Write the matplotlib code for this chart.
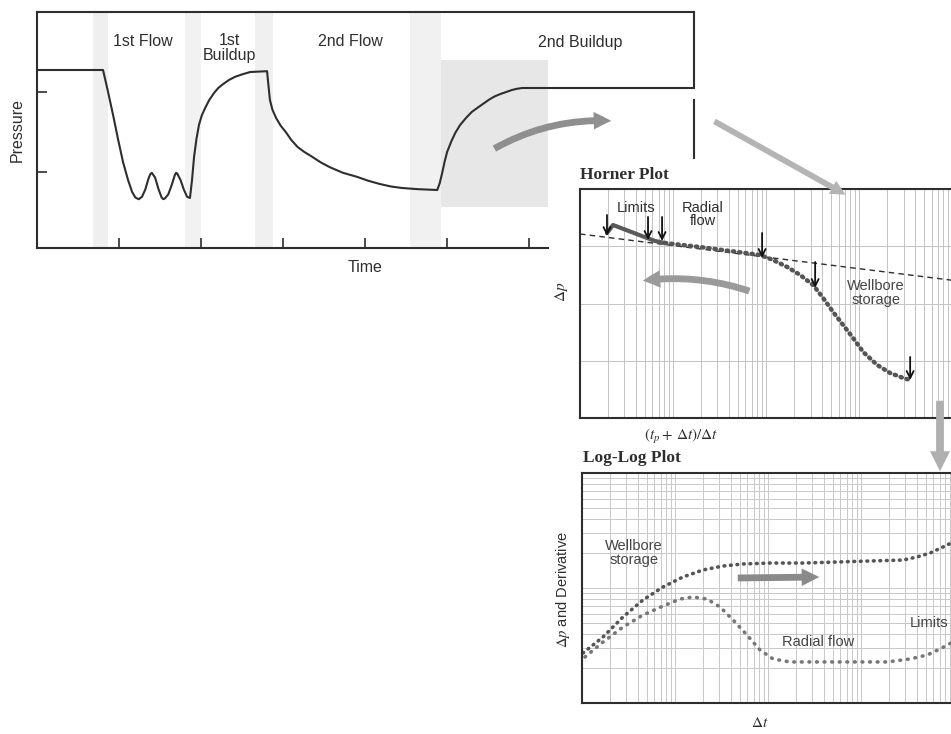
import numpy as np
import matplotlib
matplotlib.use("Agg")
import matplotlib.pyplot as plt
from matplotlib.patches import FancyArrowPatch, Rectangle

W, H = 951, 734

# ---- pressure history (time units = tick spacing) ----
t_hist = [0.0, 0.805, 0.86, 0.93, 0.99, 1.05, 1.11, 1.16, 1.20, 1.24, 1.28, 1.32, 1.36, 1.38,
          1.40, 1.44, 1.48, 1.52, 1.54, 1.56, 1.60, 1.64, 1.68, 1.695, 1.71, 1.75, 1.79, 1.83,
          1.865, 1.89, 1.915, 1.945, 1.975, 2.01, 2.05, 2.10, 2.16, 2.21, 2.27, 2.34, 2.415,
          2.50, 2.60, 2.805, 2.82, 2.84, 2.87, 2.915, 2.97, 3.04, 3.10, 3.18, 3.26, 3.355,
          3.46, 3.57, 3.73, 3.90, 4.04, 4.18, 4.31, 4.45, 4.65, 4.88, 4.91, 4.94, 4.97, 5.0,
          5.05, 5.1, 5.16, 5.23, 5.30, 5.38, 5.45, 5.52, 5.58, 5.65, 5.72, 5.79, 5.85, 5.915, 8.01]
p_hist = [2.275, 2.275, 2.03, 1.70, 1.40, 1.12, 0.90, 0.75, 0.68, 0.66, 0.69, 0.78, 0.92, 0.97,
          0.99, 0.93, 0.79, 0.68, 0.66, 0.67, 0.72, 0.83, 0.96, 0.99, 0.98, 0.90, 0.78, 0.69,
          0.675, 0.90, 1.19, 1.42, 1.59, 1.71, 1.80, 1.90, 1.99, 2.05, 2.10, 2.15, 2.19,
          2.22, 2.25, 2.26, 2.10, 1.90, 1.78, 1.675, 1.58, 1.49, 1.40, 1.31, 1.25, 1.19,
          1.12, 1.06, 0.99, 0.94, 0.89, 0.85, 0.82, 0.80, 0.785, 0.775, 0.86, 0.99, 1.13, 1.25,
          1.38, 1.49, 1.59, 1.675, 1.75, 1.81, 1.86, 1.91, 1.945, 1.975, 2.0, 2.025, 2.04, 2.05, 2.05]
phase_labels = ["1st Flow", "1st\nBuildup", "2nd Flow", "2nd Buildup"]
phase_t = [1.29, 2.35, 3.82, 6.62]
phase_p = [2.625, 2.55, 2.625, 2.625]
time_ticks = [1, 2, 3, 4, 5, 6]
pres_ticks = [1, 2]

# ---- Horner plot (log10 of (tp+dt)/dt, linear dp) ----
horner_line_lx = [0.0, 4.03]
horner_line_y = [3.214, 2.40]
early_lx = [0.290, 0.355, 0.806, 0.914]
early_y = [3.231, 3.371, 3.092, 3.057]
horner_lx = [0.914, 1.10, 1.290, 1.45, 1.613, 1.78, 1.935, 2.075, 2.226, 2.366, 2.505, 2.613,
             2.720, 2.828, 2.935, 3.043, 3.194, 3.333, 3.473, 3.548]
horner_y = [3.057, 3.022, 2.987, 2.952, 2.917, 2.882, 2.847, 2.760, 2.638, 2.498, 2.323, 2.096,
            1.852, 1.624, 1.397, 1.153, 0.926, 0.786, 0.699, 0.664]
marker_lx = [0.290, 0.731, 0.882, 1.957, 2.527, 3.548]
marker_top = [3.546, 3.511, 3.511, 3.232, 2.725, 1.066]
marker_bot = [3.179, 3.109, 3.092, 2.795, 2.271, 0.664]

# ---- Log-log plot (log10 dt, log10 dp) ----
ll_dp_lx = [0.011, 0.226, 0.441, 0.656, 0.871, 1.086, 1.301, 1.516, 1.731, 2.022, 2.376,
            2.742, 3.097, 3.452, 3.602, 3.742, 3.882, 3.968]
ll_dp_ly = [0.435, 0.574, 0.748, 0.896, 1.009, 1.096, 1.157, 1.191, 1.209, 1.217, 1.217,
            1.226, 1.235, 1.243, 1.270, 1.304, 1.357, 1.391]
ll_der_lx = [0.032, 0.226, 0.441, 0.656, 0.871, 1.054, 1.194, 1.344, 1.484, 1.624, 1.774,
             1.914, 2.054, 2.237, 2.559, 2.914, 3.280, 3.527, 3.710, 3.849, 3.968]
ll_der_ly = [0.400, 0.530, 0.661, 0.765, 0.843, 0.904, 0.922, 0.904, 0.835, 0.722, 0.591,
             0.461, 0.383, 0.357, 0.357, 0.357, 0.357, 0.383, 0.417, 0.470, 0.522]

INK = "#2e2e2e"
SANS = ["Liberation Sans", "DejaVu Sans"]
SERIF = ["Liberation Serif", "DejaVu Serif"]
plt.rcParams["font.family"] = SANS
plt.rcParams["mathtext.fontset"] = "stix"


def fx(x):
    return x / W


def fy(y):
    return 1 - y / H


fig = plt.figure(figsize=(W / 100, H / 100), dpi=100)
fig.patch.set_facecolor("white")

# ---------------- pressure history ----------------
ax = fig.add_axes([fx(37), fy(248), fx(694) - fx(37), fy(12) - fy(248)])
ax.set_xlim(0, 8.01)
ax.set_ylim(0.05, 3.0)
for a, b, c in [(0.68, 0.86, "#efefef"), (1.80, 2.0, "#f2f2f2"), (2.66, 2.88, "#f0f0f0"),
                (4.55, 4.93, "#f1f1f1")]:
    ax.axvspan(a, b, color=c, lw=0, zorder=0)
ax.add_patch(Rectangle((4.93, 0.56), 6.23 - 4.93, 2.4 - 0.56, color="#e7e7e7", lw=0, zorder=0))
ax.plot(t_hist, p_hist, color=INK, lw=1.5, zorder=3)
for lab, t, p in zip(phase_labels, phase_t, phase_p):
    ax.text(t, p, lab, ha="center", va="center", fontsize=11.5, color=INK, linespacing=1.0)
ax.set_xticks(time_ticks)
ax.set_yticks(pres_ticks)
ax.tick_params(direction="in", length=7, width=1.2, color=INK, labelbottom=False, labelleft=False)
for side in ["top", "right", "left", "bottom"]:
    ax.spines[side].set_color(INK)
    ax.spines[side].set_linewidth(1.5)
ax.spines["right"].set_visible(False)
ax.spines["bottom"].set_bounds(0, 6.23)
ax.axvline(8.01, ymin=0.678, ymax=1.0, color=INK, lw=1.5, clip_on=False)
ax.axvline(8.01, ymin=0.381, ymax=0.627, color=INK, lw=1.5, clip_on=False)
ax.set_xlabel("Time", fontsize=11.5, color=INK, labelpad=9)
ax.set_ylabel("Pressure", fontsize=11.5, color=INK, labelpad=9)

# ---------------- Horner plot ----------------
hx = fig.add_axes([fx(580), fy(418), fx(955) - fx(580), fy(189) - fy(418)], zorder=2)
hx.set_facecolor("white")
hx.set_xscale("log")
hx.set_xlim(1, 10 ** 4.03)
hx.set_ylim(0, 4)
hx.set_yticks([1, 2, 3])
hx.grid(True, which="both", axis="x", color="#c4c4c4", lw=0.7)
hx.grid(True, which="major", axis="y", color="#c4c4c4", lw=0.7)
hx.tick_params(which="both", length=0, labelbottom=False, labelleft=False)
for s in hx.spines.values():
    s.set_color(INK)
    s.set_linewidth(1.5)
hx.plot(10 ** np.array(horner_line_lx), horner_line_y, color=INK, lw=1.0, ls=(0, (4, 3)))
hx.plot(10 ** np.array(early_lx), early_y, color="#5a5a5a", lw=3.0, solid_capstyle="round")
hx.plot(10 ** np.array(horner_lx), horner_y, color="#555555", lw=3.2, ls=(0, (0.3, 1.1)),
        dash_capstyle="round")
for lx, y0, y1 in zip(marker_lx, marker_top, marker_bot):
    hx.annotate("", xy=(10 ** lx, y1), xytext=(10 ** lx, y0),
                arrowprops=dict(arrowstyle="->,head_length=0.5,head_width=0.25", color="#111111",
                                lw=1.3, shrinkA=0, shrinkB=0))
hx.text(10 ** 0.60, 3.668, "Limits", ha="center", va="center", fontsize=10.5, color=INK)
hx.text(10 ** 1.32, 3.55, "Radial\nflow", ha="center", va="center", fontsize=10.5, color=INK,
        linespacing=0.95)
hx.text(10 ** 3.18, 2.18, "Wellbore\nstorage", ha="center", va="center", fontsize=10.5,
        color="#444444", linespacing=0.95)
fig.text(fx(580), fy(175), "Horner Plot", fontsize=12.5, fontweight="bold", family=SERIF,
         color=INK, ha="left", va="center")
fig.text(fx(681), fy(437), r"$(t_p+\,\Delta t)/\Delta t$", fontsize=11, color=INK,
         ha="center", va="center")
fig.text(fx(562), fy(292), r"$\Delta p$", fontsize=11, color=INK, rotation=90,
         ha="center", va="center")

# ---------------- Log-log plot ----------------
lx_ax = fig.add_axes([fx(582), fy(703), fx(955) - fx(582), fy(473) - fy(703)], zorder=2)
lx_ax.set_facecolor("white")
lx_ax.set_xscale("log")
lx_ax.set_yscale("log")
lx_ax.set_xlim(1, 10 ** 4.01)
lx_ax.set_ylim(1, 100)
lx_ax.grid(True, which="both", color="#c8c8c8", lw=0.7)
lx_ax.tick_params(which="both", length=0, labelbottom=False, labelleft=False)
for s in lx_ax.spines.values():
    s.set_color(INK)
    s.set_linewidth(1.5)
lx_ax.plot(10 ** np.array(ll_dp_lx), 10 ** np.array(ll_dp_ly), color="#555555", lw=2.6,
           ls=(0, (0.2, 1.6)), dash_capstyle="round")
lx_ax.plot(10 ** np.array(ll_der_lx), 10 ** np.array(ll_der_ly), color="#777777", lw=2.6,
           ls=(0, (0.2, 1.9)), dash_capstyle="round")
lx_ax.text(10 ** 0.559, 10 ** 1.304, "Wellbore\nstorage", ha="center", va="center",
           fontsize=10.5, color="#444444", linespacing=0.95)
lx_ax.text(10 ** 2.538, 10 ** 0.53, "Radial flow", ha="center", va="center", fontsize=10.5,
           color="#444444")
lx_ax.text(10 ** 3.527, 10 ** 0.696, "Limits", ha="left", va="center", fontsize=10.5,
           color="#444444", clip_on=False)
fig.text(fx(583), fy(458), "Log-Log Plot", fontsize=12.5, fontweight="bold", family=SERIF,
         color=INK, ha="left", va="center")
fig.text(fx(760), fy(723), r"$\Delta t$", fontsize=11, color=INK, ha="center", va="center")
fig.text(fx(563), fy(590), r"$\Delta p$ and Derivative", fontsize=10.5, color=INK,
         rotation=90, ha="center", va="center")

# ---------------- connecting arrows ----------------
def big_arrow(p0, p1, color, rad=0.0, scale=14, z=5):
    arr = FancyArrowPatch((fx(p0[0]), fy(p0[1])), (fx(p1[0]), fy(p1[1])),
                          transform=fig.transFigure,
                          arrowstyle="simple,head_length=0.9,head_width=0.9,tail_width=0.35",
                          mutation_scale=scale, color=color, lw=0,
                          connectionstyle=f"arc3,rad={rad}", zorder=z)
    fig.add_artist(arr)


big_arrow((492, 150), (614, 121), "#8f8f8f", rad=-0.15)
big_arrow((712, 120), (848, 196), "#b4b4b4", rad=0.0, scale=12)
big_arrow((752, 292), (640, 281), "#9a9a9a", rad=0.12)
big_arrow((735, 578), (822, 577), "#8a8a8a", rad=0.0)
big_arrow((940, 398), (940, 474), "#b0b0b0", rad=0.0, scale=16)

fig.savefig("out.png", dpi=100)
